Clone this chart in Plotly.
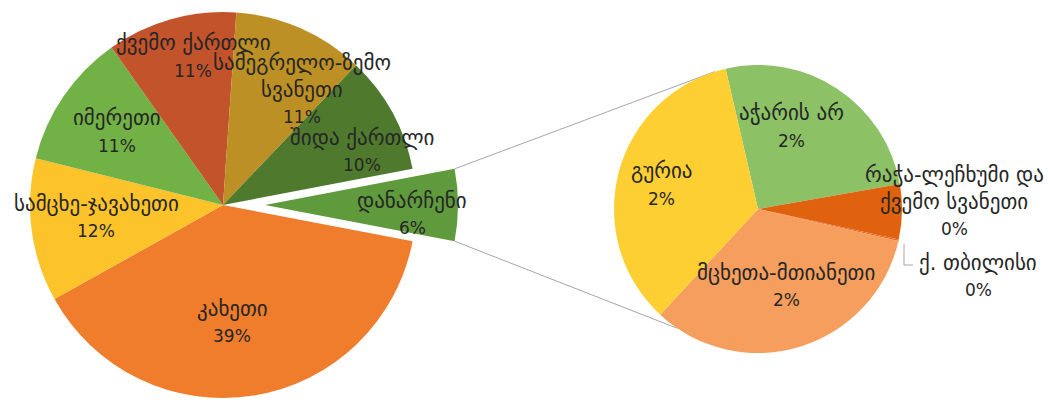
import math
import plotly.graph_objects as go

# Main pie: regional shares (%), "დანარჩენი" is the combined remainder
main_labels = ["დანარჩენი", "კახეთი", "სამცხე-ჯავახეთი", "იმერეთი",
               "ქვემო ქართლი", "სამეგრელო-ზემო\nსვანეთი", "შიდა ქართლი"]
main_values = [6.0, 38.9, 12.0, 11.3, 10.9, 11.0, 9.9]
main_colors = ["#5F9B3C", "#EF7D2C", "#FDC32B", "#71B145",
               "#C2532B", "#BC9024", "#4F7A2E"]

# Secondary pie: breakdown of the remainder slice
sub_labels = ["აჭარის არ", "რაჭა-ლეჩხუმი და\nქვემო სვანეთი", "ქ. თბილისი",
              "მცხეთა-მთიანეთი", "გურია"]
sub_values = [1.55, 0.37, 0.01, 2.0, 2.07]
sub_colors = ["#8CC265", "#E0620F", "#EA6A2A", "#F59E5E", "#FDCF33"]

W, H = 1048, 403
TOTAL = sum(main_values)

# Geometry (pixels)
MAIN_CX, MAIN_CY, MAIN_R = 223, 205, 193
PULL_PX = 42
SUB_CX, SUB_CY, SUB_R = 758, 209, 144


def domain(cx, cy, r):
    return dict(x=[(cx - r) / W, (cx + r) / W],
                y=[1 - (cy + r) / H, 1 - (cy - r) / H])


def pt(cx, cy, r, ang):
    a = math.radians(ang)
    return cx + r * math.sin(a), cy - r * math.cos(a)


rest_span = main_values[0] / TOTAL * 360
start = 90 - rest_span / 2

fig = go.Figure()

# main pie with the remainder slice left empty
fig.add_trace(go.Pie(
    values=main_values, labels=[s.replace("\n", " ") for s in main_labels],
    sort=False, direction="clockwise", rotation=start,
    marker=dict(colors=["rgba(0,0,0,0)"] + main_colors[1:], line=dict(width=0)),
    textinfo="none", hoverinfo="label+percent", showlegend=False,
    domain=domain(MAIN_CX, MAIN_CY, MAIN_R),
))

# exploded remainder slice
fig.add_trace(go.Pie(
    values=main_values, labels=[s.replace("\n", " ") for s in main_labels],
    sort=False, direction="clockwise", rotation=start,
    marker=dict(colors=[main_colors[0]] + ["rgba(0,0,0,0)"] * (len(main_values) - 1),
                line=dict(width=0)),
    textinfo="none", hoverinfo="skip", showlegend=False,
    domain=domain(MAIN_CX + PULL_PX, MAIN_CY, MAIN_R),
))

# secondary pie
fig.add_trace(go.Pie(
    values=sub_values, labels=[s.replace("\n", " ") for s in sub_labels],
    sort=False, direction="clockwise", rotation=-13,
    marker=dict(colors=sub_colors, line=dict(width=0)),
    textinfo="none", hoverinfo="label+value", showlegend=False,
    domain=domain(SUB_CX, SUB_CY, SUB_R),
))

# connector lines between the exploded slice and the secondary pie
line_style = dict(color="#A6A6A6", width=1)
p1 = pt(MAIN_CX + PULL_PX, MAIN_CY, MAIN_R, start)
p2 = pt(MAIN_CX + PULL_PX, MAIN_CY, MAIN_R, start + rest_span)
q1 = pt(SUB_CX, SUB_CY, SUB_R, -17.5)
q2 = pt(SUB_CX, SUB_CY, SUB_R, 214)
shapes = []
for a, b in [(p1, q1), (p2, q2)]:
    shapes.append(dict(type="line", xref="paper", yref="paper",
                       x0=a[0] / W, y0=1 - a[1] / H, x1=b[0] / W, y1=1 - b[1] / H,
                       line=line_style, layer="below"))

# leader for the Tbilisi label
lead = [(904, 244), (904, 265), (913, 265)]
for a, b in zip(lead[:-1], lead[1:]):
    shapes.append(dict(type="line", xref="paper", yref="paper",
                       x0=a[0] / W, y0=1 - a[1] / H, x1=b[0] / W, y1=1 - b[1] / H,
                       line=line_style))

# label block centres (pixels)
main_pos = [(412, 214), (232, 322), (96, 217), (117, 132),
            (193, 57), (302, 90), (362, 151)]
sub_pos = [(791, 127), (954, 202), (978, 276), (786, 286), (661, 185)]

NAME_FONT = dict(family="DejaVu Sans", size=21, color="#262626")
PCT_FONT = dict(family="DejaVu Sans", size=17, color="#262626")
LINE_H = 27

annotations = []


def add_label(name, value, pos):
    lines = name.split("\n") + [f"{round(value / TOTAL * 100):.0f}%"]
    n = len(lines)
    for i, txt in enumerate(lines):
        y = pos[1] + (i - (n - 1) / 2) * LINE_H
        annotations.append(dict(x=pos[0] / W, y=1 - y / H, xref="paper", yref="paper",
                                text=txt, showarrow=False,
                                font=PCT_FONT if i == n - 1 else NAME_FONT,
                                xanchor="center", yanchor="middle"))


for name, v, pos in zip(main_labels, main_values, main_pos):
    add_label(name, v, pos)
for name, v, pos in zip(sub_labels, sub_values, sub_pos):
    add_label(name, v, pos)

fig.update_layout(
    width=W, height=H,
    margin=dict(l=0, r=0, t=0, b=0),
    paper_bgcolor="white", plot_bgcolor="white",
    shapes=shapes, annotations=annotations,
    showlegend=False,
)

fig.write_html("out.html")
